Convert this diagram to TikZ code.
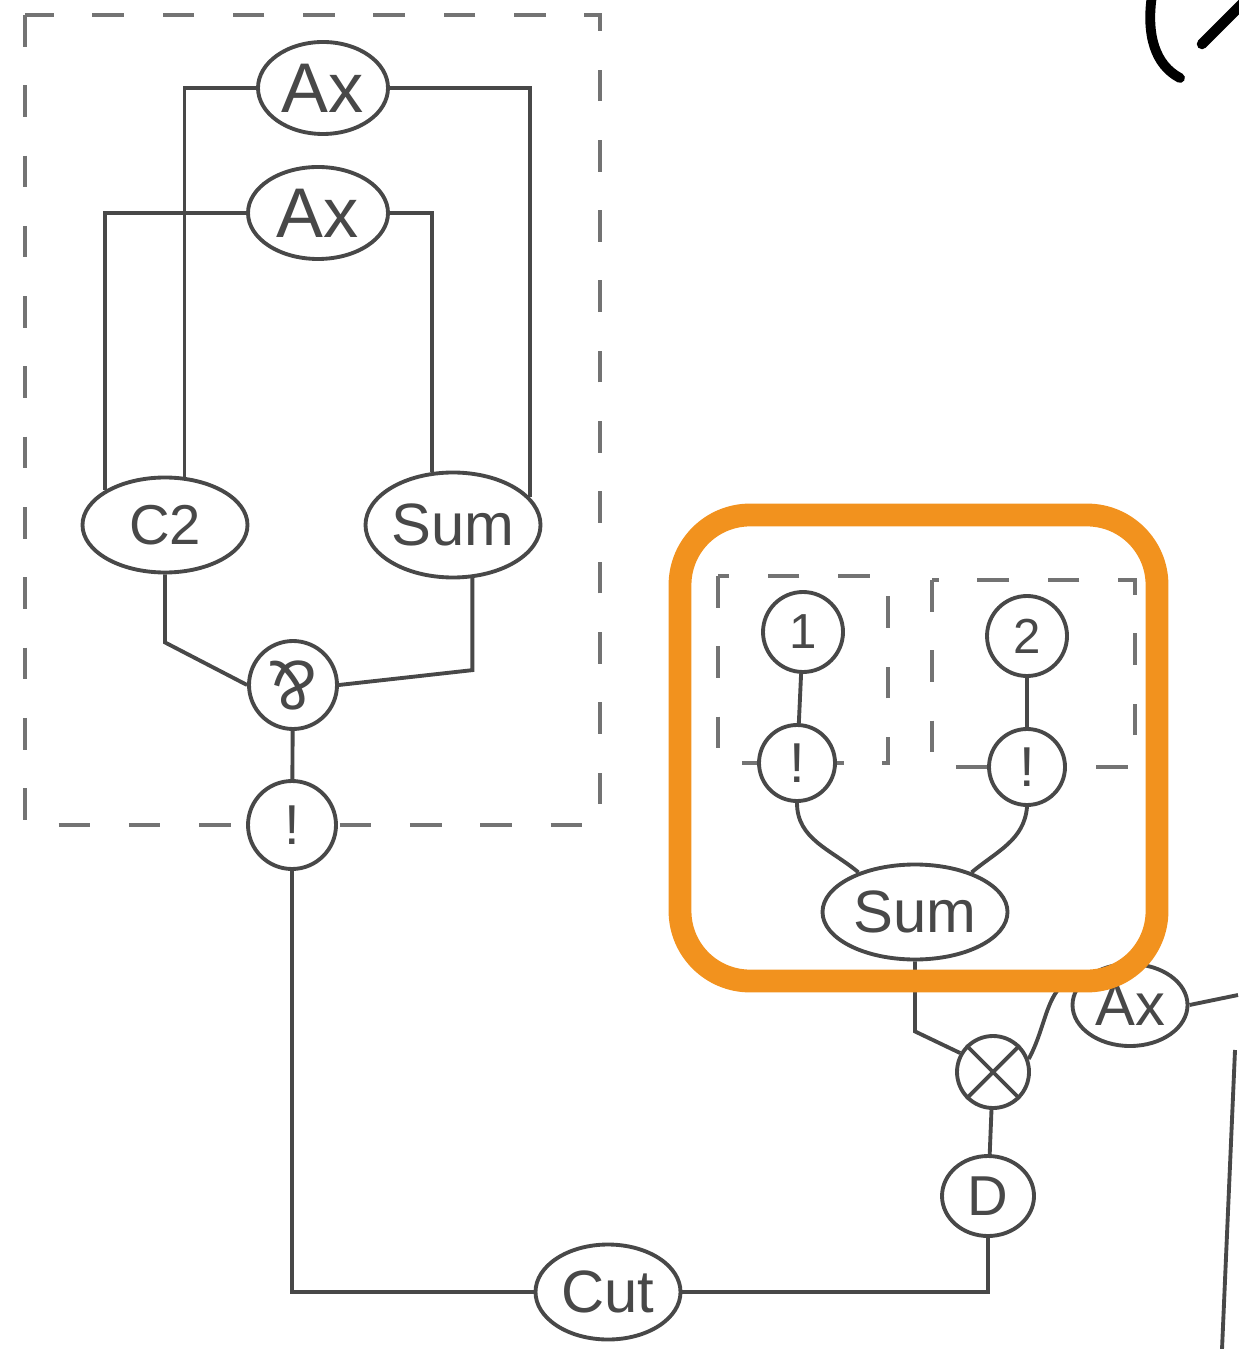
\documentclass[tikz,border=0pt]{standalone}
\usepackage{fontspec}
\setmainfont{Liberation Sans}
\usetikzlibrary{shapes.geometric}
\definecolor{netink}{RGB}{72,72,72}
\definecolor{netdash}{RGB}{115,115,115}
\definecolor{netorange}{RGB}{242,146,30}

\begin{document}
\begin{tikzpicture}[
    oval/.style={ellipse, draw=netink, fill=white, line width=1.1pt,
                 inner sep=0pt, text=netink},
    ring/.style={circle, draw=netink, fill=white, line width=1.1pt,
                 inner sep=0pt, text=netink},
    wire/.style={line width=1.1pt, color=netink},
    boxline/.style={dash pattern=on 9pt off 11pt, line width=0.9pt, color=netdash},
    hilite/.style={draw=netorange, line width=6.5pt, rounded corners=0.7cm},
    big/.style={font=\fontsize{20}{22}\selectfont},
    mid/.style={font=\fontsize{16}{18}\selectfont},
    small/.style={font=\fontsize{14}{16}\selectfont}
  ]
    \useasboundingbox (0,0) rectangle (12.38,-13.49);

    % boxes
    \draw[boxline] (0.25,-0.15) rectangle (6.00,-8.25);
    \draw[boxline] (7.18,-5.76) rectangle (8.88,-7.63);
    \draw[boxline] (9.32,-5.80) rectangle (11.35,-7.67);

    % left part
    \node[oval, big, minimum width=1.30cm, minimum height=0.92cm] (axA)  at (3.23,-0.88) {Ax};
    \node[oval, big, minimum width=1.40cm, minimum height=0.92cm] (axB)  at (3.18,-2.13) {Ax};
    \node[oval, mid, minimum width=1.65cm, minimum height=0.95cm] (ctwo) at (1.65,-5.25) {C2};
    \node[oval, font=\fontsize{17}{19}\selectfont,
          minimum width=1.75cm, minimum height=1.05cm]            (sumL) at (4.53,-5.25) {Sum};
    \node[ring, big, minimum size=0.88cm] (parr)  at (2.93,-6.85) {\rotatebox[origin=c]{180}{\&}};
    \node[ring, mid, minimum size=0.88cm] (bangL) at (2.92,-8.25) {!};

    % right part
    \node[ring, small, minimum size=0.80cm] (one)   at (8.03,-6.32)  {1};
    \node[ring, small, minimum size=0.80cm] (two)   at (10.27,-6.36) {2};
    \node[ring, mid, minimum size=0.76cm]   (bangA) at (7.97,-7.63)  {!};
    \node[ring, mid, minimum size=0.76cm]   (bangB) at (10.27,-7.67) {!};
    \node[oval, font=\fontsize{17}{19}\selectfont,
          minimum width=1.85cm, minimum height=0.95cm] (sumR) at (9.15,-9.12) {Sum};
    \node[oval, font=\fontsize{17}{19}\selectfont,
          minimum width=1.15cm, minimum height=0.82cm] (axC) at (11.30,-10.05) {Ax};
    \node[ring, minimum size=0.72cm] (ten) at (9.93,-10.72) {};
    \node[oval, mid, minimum width=0.92cm, minimum height=0.80cm] (dee) at (9.88,-11.96) {D};
    \node[oval, font=\fontsize{17}{19}\selectfont,
          minimum width=1.45cm, minimum height=0.95cm] (cut) at (6.08,-12.92) {Cut};
    \draw[wire] (ten.45) -- (ten.225);
    \draw[wire] (ten.135) -- (ten.315);

    \coordinate (axend) at (12.38,-9.95);
    \coordinate (edgeA) at (12.35,-10.50);
    \coordinate (edgeB) at (12.22,-13.49);

    % wires
    \draw[wire] (axA.west) -| (ctwo.68);
    \draw[wire] (axB.west) -| (ctwo.150);
    \draw[wire] (axA.east) -| (sumL.20);
    \draw[wire] (axB.east) -| (sumL.112);
    \draw[wire] (ctwo.south) -- ++(0,-0.68) -- (parr.west);
    \draw[wire] (sumL.-70) -- ++(0,-0.92) -- (parr.east);
    \draw[wire] (parr) -- (bangL);
    \draw[wire] (bangL) |- (cut);
    \draw[wire] (cut) -| (dee);
    \draw[wire] (dee) -- (ten);
    \draw[wire] (sumR.south) -- ++(0,-0.70) -- (ten.150);
    \draw[wire] (ten.20) .. controls (10.50,-10.20) and (10.44,-9.78) .. (axC.140);
    \draw[wire] (axC.east) -- (axend);
    \draw[wire] (edgeA) -- (edgeB);
    \draw[wire] (one) -- (bangA);
    \draw[wire] (two) -- (bangB);
    \draw[wire] (bangA.south) to[out=-90, in=140] (sumR.145);
    \draw[wire] (bangB.south) to[out=-95, in=40] (sumR.35);

    % highlight
    \draw[hilite] (6.80,-5.15) rectangle (11.57,-9.81);

    % corner mark
    \draw[line width=2.8pt, line cap=round] (11.52,0.05) .. controls (11.46,-0.35) and (11.55,-0.65) .. (11.80,-0.78);
    \draw[line width=3pt, line cap=round] (12.02,-0.44) -- (12.42,-0.04);
\end{tikzpicture}
\end{document}
